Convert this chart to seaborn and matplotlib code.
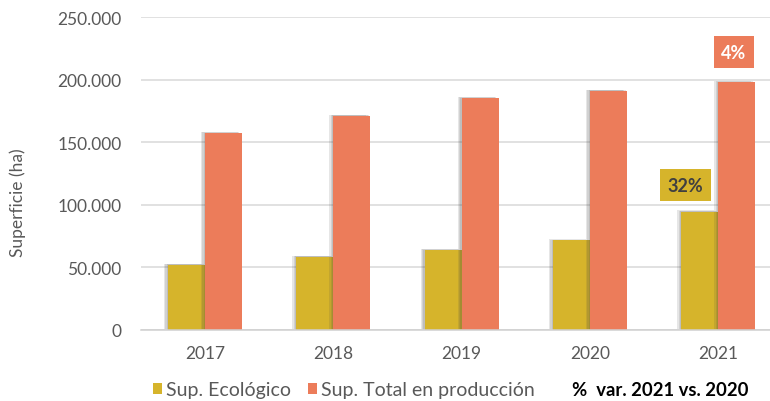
import seaborn as sns
import matplotlib.pyplot as plt
import matplotlib.patheffects as pe
from matplotlib.ticker import FuncFormatter
import pandas as pd

years = ['2017', '2018', '2019', '2020', '2021']
sup_ecologico = [52100, 58500, 63800, 71600, 94500]
sup_total = [157400, 171000, 185200, 191000, 198100]
series = ['Sup. Ecológico', 'Sup. Total en producción']
colors = ['#D6B42B', '#EC7C5A']

df = pd.DataFrame({
    'year': years * 2,
    'serie': [series[0]] * len(years) + [series[1]] * len(years),
    'value': sup_ecologico + sup_total,
})

sns.set_theme(style='white')
plt.rcParams['font.family'] = ['Lato', 'DejaVu Sans']

fig = plt.figure(figsize=(7.7, 4.02), dpi=100)
ax = fig.add_axes([141 / 770, 71 / 402, 641.5 / 770, 313 / 402])

sns.barplot(data=df, x='year', y='value', hue='serie', hue_order=series,
            palette=colors, width=0.577, saturation=1, linewidth=0, ax=ax, legend=False)

# soft shadow on the left side, excel style
shadow = [pe.SimplePatchShadow(offset=(-o, 0.3 * o), shadow_rgbFace='#444444', alpha=0.13)
          for o in (3.0, 2.0, 1.0)] + [pe.Normal()]
for p in ax.patches:
    p.set_path_effects(shadow)

ax.set_ylim(0, 250000)
ax.set_yticks(range(0, 250001, 50000))
ax.yaxis.set_major_formatter(FuncFormatter(lambda v, _: f'{v:,.0f}'.replace(',', '.')))
ax.grid(axis='y', color='#d9d9d9', linewidth=1.1)
ax.set_axisbelow(True)
for s in ['top', 'right', 'left']:
    ax.spines[s].set_visible(False)
ax.spines['bottom'].set_color('#d0d0d0')
ax.spines['bottom'].set_linewidth(1.1)
ax.tick_params(axis='both', length=0, labelsize=12.5, labelcolor='#595959')
ax.tick_params(axis='y', pad=14)
ax.tick_params(axis='x', pad=11)
ax.set_xlabel('')
ax.set_ylabel('Superficie (ha)', fontsize=12.5, color='#595959')
ax.yaxis.set_label_coords(-115 / 641.5, 0.41)

# variation 2021 vs 2020
var_eco = sup_ecologico[-1] / sup_ecologico[-2] - 1
var_tot = sup_total[-1] / sup_total[-2] - 1
ax.text(3.744, 115800, f'{var_eco:.0%}', ha='center', va='center', fontsize=13,
        fontweight='bold', color='#404040',
        bbox=dict(boxstyle='square,pad=0.4', fc=colors[0], ec='none'))
ax.text(4.12, 222000, f'{var_tot:.0%}', ha='center', va='center', fontsize=13,
        fontweight='bold', color='white',
        bbox=dict(boxstyle='square,pad=0.4', fc=colors[1], ec='none'))

handles = [plt.Rectangle((0, 0), 1, 1, fc=c, ec='none') for c in colors]
fig.legend(handles, series, loc='center left', bbox_to_anchor=(153 / 770, 11 / 402),
           ncol=2, frameon=False, fontsize=14, labelcolor='#595959',
           handlelength=0.45, handleheight=0.45, handletextpad=0.2, columnspacing=0.9,
           borderpad=0, borderaxespad=0)
fig.text(572 / 770, 11 / 402, '%  var. 2021 vs. 2020', ha='left', va='center',
         fontsize=13.3, fontweight='bold', color='black')

fig.savefig('out.png', dpi=100)
